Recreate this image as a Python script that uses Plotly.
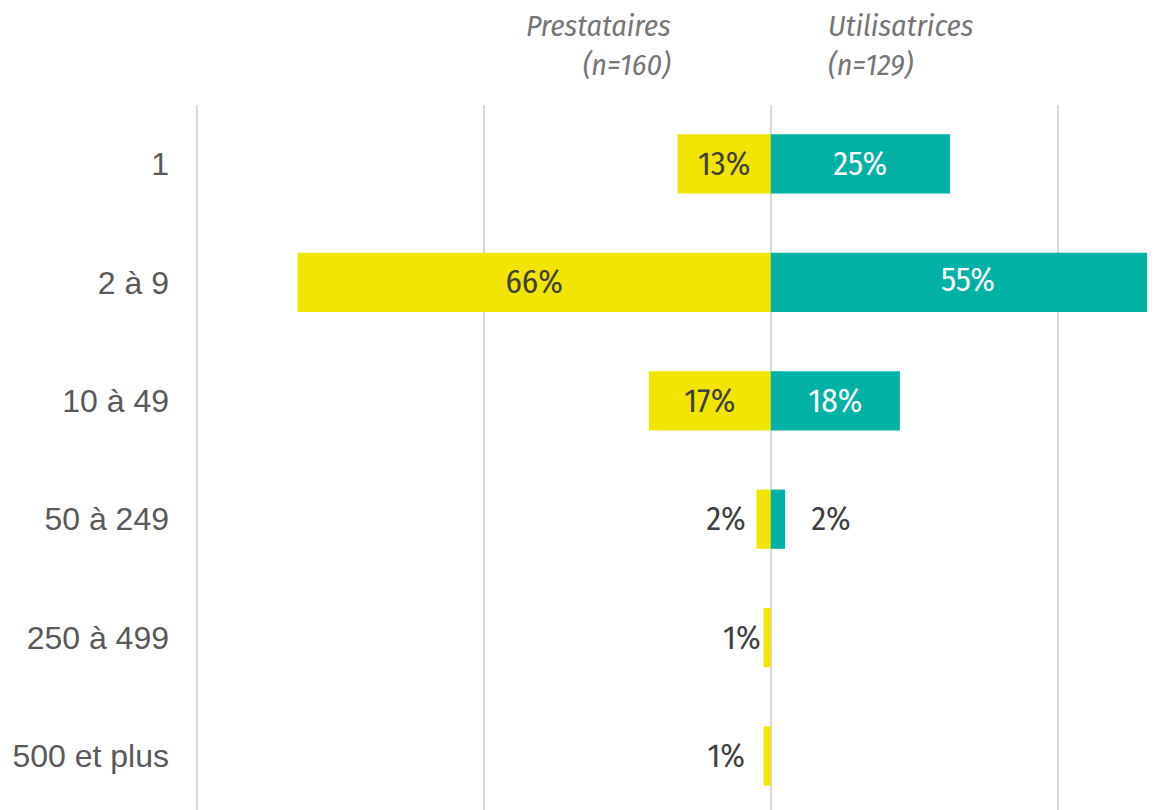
import plotly.graph_objects as go

categories = ["1", "2 à 9", "10 à 49", "50 à 249", "250 à 499", "500 et plus"]
prestataires = [13, 66, 17, 2, 1, 1]
utilisatrices = [25, 55, 18, 2, 0, 0]
series_names = ["Prestataires", "Utilisatrices"]
series_n = [160, 129]

YELLOW = "#F2E600"
TEAL = "#00B2A3"
COND = "Fira Sans Condensed, DejaVu Sans Condensed, Liberation Sans Narrow, Roboto Condensed, sans-serif"
X_MIN, X_MAX = -80.15, 53.58

# extra spacing (non-breaking spaces) for the small outside labels
p_pad = [0, 0, 0, 1, 0, 2]
u_pad = [0, 0, 0, 3, 0, 0]
NB = "\u00a0"

def pos_list(vals, limit, thr=5):
    out = []
    for v in vals:
        if v <= 0:
            out.append("none")
        elif v < thr:
            out.append("outside")
        elif v > limit:
            out.append("none")  # labelled separately (bar runs past the axis end)
        else:
            out.append("inside")
    return out

p_text = [f"{v}%" + NB * p for v, p in zip(prestataires, p_pad)]
u_text = [(NB * p + f"{v}%") if v > 0 else "" for v, p in zip(utilisatrices, u_pad)]

fig = go.Figure()
fig.add_trace(go.Bar(
    y=categories, x=[-v for v in prestataires], orientation="h",
    name=series_names[0], marker=dict(color=YELLOW, line=dict(width=0)),
    text=p_text, textposition=pos_list(prestataires, -X_MIN), insidetextanchor="middle",
    textangle=0, constraintext="none",
    insidetextfont=dict(family=COND, size=33, color="#404040"),
    outsidetextfont=dict(family=COND, size=33, color="#404040"),
    width=0.5, hoverinfo="skip", cliponaxis=False,
))
fig.add_trace(go.Bar(
    y=categories, x=utilisatrices, orientation="h",
    name=series_names[1], marker=dict(color=TEAL, line=dict(width=0)),
    text=u_text, textposition=pos_list(utilisatrices, X_MAX), insidetextanchor="middle",
    textangle=0, constraintext="none",
    insidetextfont=dict(family=COND, size=33, color="white"),
    outsidetextfont=dict(family=COND, size=33, color="#404040"),
    width=0.5, hoverinfo="skip", cliponaxis=False,
))

# labels for bars that run past the right end of the axis, centred on the full bar
over = [(c, v) for c, v in zip(categories, utilisatrices) if v > X_MAX]
fig.add_trace(go.Scatter(
    x=[v / 2 for c, v in over], y=[c for c, v in over], mode="text",
    text=[f"{v}%" for c, v in over], textposition="middle center",
    textfont=dict(family=COND, size=33, color="white"),
    hoverinfo="skip", cliponaxis=False, showlegend=False,
))

fig.update_layout(
    width=1147, height=802,
    margin=dict(l=188, r=0, t=97, b=0),
    paper_bgcolor="white", plot_bgcolor="white",
    barmode="relative", showlegend=False,
    xaxis=dict(range=[X_MIN, X_MAX], tickvals=[-80, -40, 0, 40], showticklabels=False,
               showgrid=True, gridcolor="#D9D9D9", gridwidth=2,
               zeroline=True, zerolinecolor="#D9D9D9", zerolinewidth=2,
               showline=False, fixedrange=True),
    yaxis=dict(categoryorder="array", categoryarray=categories,
               range=[5.456, -0.498], showgrid=False, zeroline=False, showline=False,
               ticks="", ticklabelstandoff=26,
               tickfont=dict(family="Liberation Sans, Arial, sans-serif", size=32, color="#595959")),
    font=dict(family=COND),
)

hdr_font = dict(family=COND, size=30, color="#767676")
fig.add_annotation(xref="x", yref="paper", x=0, y=1, yshift=99, xshift=-98,
                   xanchor="right", yanchor="top", align="right", showarrow=False,
                   text=f"<i>{series_names[0]}<br>(n={series_n[0]})</i>", font=hdr_font)
fig.add_annotation(xref="x", yref="paper", x=0, y=1, yshift=99, xshift=55,
                   xanchor="left", yanchor="top", align="left", showarrow=False,
                   text=f"<i>{series_names[1]}<br>(n={series_n[1]})</i>", font=hdr_font)

fig.write_html("out.html")
